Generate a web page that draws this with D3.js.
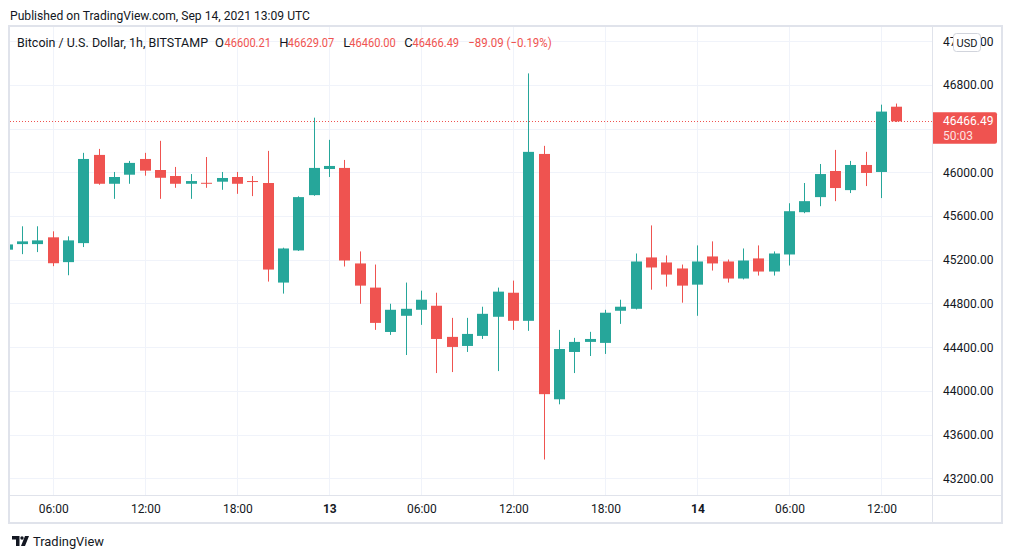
<!DOCTYPE html>
<html>
<head>
<meta charset="utf-8">
<script src="https://cdn.jsdelivr.net/npm/d3@7"></script>
<style>
  body { margin: 0; background: #fff; }
  text { font-family: Roboto, "Noto Sans", sans-serif; }
</style>
</head>
<body>
<svg id="chart" width="1012" height="558"></svg>
<script>
// hourly candles, BTC/USD Bitstamp, 12 Sep 03:00 .. 14 Sep 13:00 UTC
const times = [
  "2021-09-12T03:00Z","2021-09-12T04:00Z","2021-09-12T05:00Z","2021-09-12T06:00Z","2021-09-12T07:00Z",
  "2021-09-12T08:00Z","2021-09-12T09:00Z","2021-09-12T10:00Z","2021-09-12T11:00Z","2021-09-12T12:00Z",
  "2021-09-12T13:00Z","2021-09-12T14:00Z","2021-09-12T15:00Z","2021-09-12T16:00Z","2021-09-12T17:00Z",
  "2021-09-12T18:00Z","2021-09-12T19:00Z","2021-09-12T20:00Z","2021-09-12T21:00Z","2021-09-12T22:00Z",
  "2021-09-12T23:00Z",
  "2021-09-13T00:00Z","2021-09-13T01:00Z","2021-09-13T02:00Z","2021-09-13T03:00Z","2021-09-13T04:00Z",
  "2021-09-13T05:00Z","2021-09-13T06:00Z","2021-09-13T07:00Z","2021-09-13T08:00Z","2021-09-13T09:00Z",
  "2021-09-13T10:00Z","2021-09-13T11:00Z","2021-09-13T12:00Z","2021-09-13T13:00Z","2021-09-13T14:00Z",
  "2021-09-13T15:00Z","2021-09-13T16:00Z","2021-09-13T17:00Z","2021-09-13T18:00Z","2021-09-13T19:00Z",
  "2021-09-13T20:00Z","2021-09-13T21:00Z","2021-09-13T22:00Z","2021-09-13T23:00Z",
  "2021-09-14T00:00Z","2021-09-14T01:00Z","2021-09-14T02:00Z","2021-09-14T03:00Z","2021-09-14T04:00Z",
  "2021-09-14T05:00Z","2021-09-14T06:00Z","2021-09-14T07:00Z","2021-09-14T08:00Z","2021-09-14T09:00Z",
  "2021-09-14T10:00Z","2021-09-14T11:00Z","2021-09-14T12:00Z","2021-09-14T13:00Z"
];

const open  = [45292,45343,45343,45405,45178,45352,46159,45895,45978,46122,
               46021,45966,45895,45904,45914,45957,45920,45902,44991,45285,
               45791,46030,46040,45166,44945,44539,44687,44742,44779,44494,
               44411,44503,44678,44898,44641,46168,43923,44356,44448,44439,
               44733,44751,45221,45175,45120,44972,45230,45184,45028,45212,
               45092,45248,45635,45773,46012,45837,46067,46003,46600.21];
const high  = [45360,45506,45506,45460,45414,46178,46214,46003,46104,46178,
               46288,46049,45984,46140,46003,46003,45966,46196,45310,45780,
               46500,46297,46113,45276,45156,44797,44991,44917,44898,44668,
               44668,44770,44945,45009,46905,46242,44558,44485,44540,44742,
               44834,45257,45514,45239,45156,45331,45368,45202,45303,45331,
               45276,45717,45902,46076,46205,46104,46187,46619,46629.07];
const low   = [45280,45251,45270,45141,45058,45316,45886,45757,45895,45969,
               45757,45858,45757,45858,45840,45803,45782,45000,44890,45280,
               45785,45957,45138,44797,44558,44512,44328,44604,44163,44172,
               44356,44475,44181,44558,44549,43372,43877,44163,44319,44338,
               44613,44745,44926,44954,44807,44687,45101,44991,45020,45055,
               45055,45147,45626,45690,45736,45810,45874,45764,46460.00];
const close = [45340,45368,45377,45168,45377,46122,45895,45957,46086,46015,
               45950,45895,45920,45895,45948,45895,45914,45110,45303,45773,
               46040,46058,45193,44963,44622,44742,44751,44834,44475,44402,
               44521,44705,44908,44641,46187,43970,44383,44448,44475,44715,
               44770,45184,45129,45064,44963,45184,45166,45028,45193,45092,
               45257,45644,45736,45984,45856,46067,45994,46555.58,46466.49];

const tickTimes  = ["2021-09-12T06:00Z","2021-09-12T12:00Z","2021-09-12T18:00Z","2021-09-13T00:00Z",
                    "2021-09-13T06:00Z","2021-09-13T12:00Z","2021-09-13T18:00Z","2021-09-14T00:00Z",
                    "2021-09-14T06:00Z","2021-09-14T12:00Z"];
const tickLabels = ["06:00","12:00","18:00","13","06:00","12:00","18:00","14","06:00","12:00"];
const dayLabels  = ["13","14"];
const priceTicks = [43200,43600,44000,44400,44800,45200,45600,46000,46400,46800,47200];

const published = "Published on TradingView.com, Sep 14, 2021 13:09 UTC";
const symbol    = "Bitcoin / U.S. Dollar, 1h, BITSTAMP";
const ohlcKeys  = ["O", "H", "L", "C"];
const countdown = "50:03";
const currency  = "USD";

const UP = "#26a69a", DOWN = "#ef5350", INK = "#131722", GRID = "#f0f3fa", BORDER = "#e0e3eb";

const svg = d3.select("#chart");
const parse = d3.isoParse;
const plot = { left: 10, right: 932, top: 27, bottom: 495 };

const x = d3.scaleUtc()
    .domain([parse("2021-09-12T06:00Z"), parse("2021-09-14T12:00Z")])
    .range([53.3, 881.5]);
const y = d3.scaleLinear()
    .domain([43200, 46000])
    .range([478.3, 172.3]);

const candles = times.map((t, i) => ({
    t: parse(t), o: open[i], h: high[i], l: low[i], c: close[i]
}));
const last = candles[candles.length - 1];
const prev = candles[candles.length - 2];
const fmt = d3.format(".2f");
const ly = y(last.c);

function label(str, px, py, opts) {
    const t = svg.append("text")
        .attr("x", px).attr("y", py)
        .attr("font-size", opts.size || 13)
        .attr("fill", opts.fill || INK)
        .text(str);
    if (opts.len) t.attr("textLength", opts.len).attr("lengthAdjust", "spacingAndGlyphs");
    return t;
}

// header
label(published, 10, 20, { len: 300 });

svg.append("defs").append("clipPath").attr("id", "plotclip")
  .append("rect")
    .attr("x", plot.left).attr("y", plot.top)
    .attr("width", plot.right - plot.left).attr("height", plot.bottom - plot.top);

// grid
const grid = svg.append("g");
grid.selectAll("line.h").data(priceTicks).join("line")
    .attr("x1", plot.left).attr("x2", plot.right)
    .attr("y1", d => Math.round(y(d)) + 0.5).attr("y2", d => Math.round(y(d)) + 0.5)
    .attr("stroke", GRID);
grid.selectAll("line.v").data(tickTimes).join("line")
    .attr("x1", d => Math.floor(x(parse(d))) + 0.5).attr("x2", d => Math.floor(x(parse(d))) + 0.5)
    .attr("y1", plot.top).attr("y2", plot.bottom)
    .attr("stroke", GRID);

// legend
const chg = last.c - prev.c;
const pct = chg / prev.c * 100;
const signed = v => (v < 0 ? "\u2212" : "+") + fmt(Math.abs(v));
const legendY = 46.5;
label(symbol, 17, legendY, { len: 191 });
const ohlcVals = [last.o, last.h, last.l, last.c];
const keyX = [215, 279.3, 343.3, 404.3];
const valX = [224.5, 287.8, 349.3, 412.6];
ohlcKeys.forEach((k, i) => {
    label(k, keyX[i], legendY, {});
    label(fmt(ohlcVals[i]), valX[i], legendY, { fill: DOWN, len: 46.5 });
});
label(signed(chg) + " (" + signed(pct) + "%)", 468.3, legendY, { fill: DOWN, len: 83.4 });

const body = svg.append("g").attr("clip-path", "url(#plotclip)");

// last price line
body.append("line")
    .attr("x1", plot.left).attr("x2", plot.right)
    .attr("y1", Math.round(ly) + 0.5).attr("y2", Math.round(ly) + 0.5)
    .attr("stroke", DOWN).attr("stroke-dasharray", "1,2");

// candles
const colorOf = d => d.c >= d.o ? UP : DOWN;
const cg = body.selectAll("g.candle").data(candles).join("g").attr("class", "candle");
cg.append("line")
    .attr("x1", d => Math.floor(x(d.t)) + 0.5)
    .attr("x2", d => Math.floor(x(d.t)) + 0.5)
    .attr("y1", d => y(d.h)).attr("y2", d => y(d.l))
    .attr("stroke", colorOf);
cg.append("rect")
    .attr("x", d => Math.floor(x(d.t)) - 5)
    .attr("width", 11)
    .attr("y", d => y(Math.max(d.o, d.c)))
    .attr("height", d => Math.max(1, Math.abs(y(d.o) - y(d.c))))
    .attr("fill", colorOf);

// axes
const xAxis = svg.append("g")
    .attr("transform", `translate(0,${plot.bottom})`)
    .call(d3.axisBottom(x)
        .tickValues(tickTimes.map(parse))
        .tickFormat((d, i) => tickLabels[i])
        .tickSize(0).tickPadding(9));
xAxis.select(".domain").remove();
xAxis.selectAll("text")
    .attr("font-size", 12).attr("fill", INK)
    .attr("font-weight", (d, i) => dayLabels.includes(tickLabels[i]) ? "bold" : null);

// price labels hidden under the last-price badge are not drawn
const yAxis = svg.append("g")
    .attr("transform", `translate(${plot.right},0)`)
    .call(d3.axisRight(y)
        .tickValues(priceTicks.filter(p => Math.abs(y(p) - (ly + 6)) > 20))
        .tickFormat(fmt)
        .tickSize(0).tickPadding(11));
yAxis.select(".domain").remove();
yAxis.selectAll("text").attr("font-size", 12).attr("fill", INK);

// currency badge
svg.append("rect")
    .attr("x", 953.5).attr("y", 33.5).attr("width", 27).attr("height", 18).attr("rx", 3)
    .attr("fill", "#fff").attr("stroke", "#d1d4dc");
svg.append("text")
    .attr("x", 967).attr("y", 46.5).attr("text-anchor", "middle")
    .attr("font-size", 11).attr("fill", INK).text(currency);

// last price badge
svg.append("path")
    .attr("d", `M${plot.right},${ly - 9} H995 a2,2 0 0 1 2,2 V${ly + 20.5} a2,2 0 0 1 -2,2 H${plot.right} Z`)
    .attr("fill", DOWN);
label(fmt(last.c), 943, ly + 4, { size: 12, fill: "#fff" });
label(countdown, 943, ly + 19, { size: 12, fill: "#fff" }).attr("fill-opacity", 0.85);

// frame
svg.append("line")
    .attr("x1", plot.right + 0.5).attr("x2", plot.right + 0.5)
    .attr("y1", 26).attr("y2", 523).attr("stroke", BORDER);
svg.append("line")
    .attr("x1", 9).attr("x2", 1002)
    .attr("y1", plot.bottom + 0.5).attr("y2", plot.bottom + 0.5).attr("stroke", BORDER);
svg.append("rect")
    .attr("x", 9).attr("y", 26).attr("width", 993).attr("height", 497)
    .attr("fill", "none").attr("stroke", BORDER).attr("stroke-width", 2);

// footer logo
const logo = svg.append("g").attr("fill", INK);
logo.append("path").attr("d", "M12,536 H19.5 V546 H16 V539.5 H12 Z");
logo.append("circle").attr("cx", 22).attr("cy", 538).attr("r", 1.7);
logo.append("path").attr("d", "M25,536 H29 L25,546 H21 Z");
label("TradingView", 33, 545.5, { len: 71 });
</script>
</body>
</html>
